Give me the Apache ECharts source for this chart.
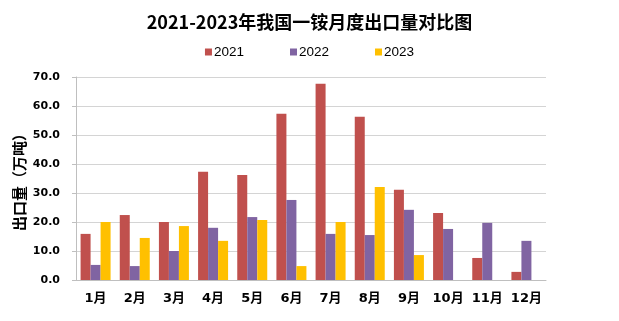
<!DOCTYPE html>
<html><head><meta charset="utf-8">
<script src="https://cdn.jsdelivr.net/npm/echarts@6/dist/echarts.min.js"></script>
<style>html,body{margin:0;padding:0;background:#fff}#c{width:619px;height:321px}</style>
</head><body><div id="c"></div>
<script>
var categories = ['1月','2月','3月','4月','5月','6月','7月','8月','9月','10月','11月','12月'];
var seriesNames = ['2021','2022','2023'];
var data2021 = [15.9, 22.4, 20.0, 37.3, 36.2, 57.3, 67.7, 56.3, 31.1, 23.1, 7.6, 2.8];
var data2022 = [5.2, 4.8, 10.0, 18.0, 21.7, 27.6, 15.9, 15.5, 24.2, 17.6, 19.7, 13.5];
var data2023 = [20.0, 14.5, 18.6, 13.5, 20.7, 4.8, 20.0, 32.1, 8.6, null, null, null];
var colors = ['#C0504D', '#8064A2', '#FFC000'];

var chart = echarts.init(document.getElementById('c'));
var lblFont = '"DejaVu Sans", "Noto Sans CJK SC", sans-serif';
function bar(name, data, color) {
  return { name: name, type: 'bar', data: data, barWidth: 10, barGap: '0%',
           itemStyle: { color: color }, animation: false };
}
chart.setOption({
  animation: false,
  title: { text: '2021-2023年我国一铵月度出口量对比图', left: 'center', top: 8,
           textStyle: { fontFamily: '"Noto Sans CJK SC", sans-serif', fontWeight: 'bold', fontSize: 18, color: '#000' } },
  legend: { top: 40, left: 'center', itemWidth: 7, itemHeight: 7, itemGap: 46, icon: 'rect',
            textStyle: { fontFamily: '"Liberation Sans", sans-serif', fontSize: 13.5, color: '#000', padding: [0, 0, 0, -3] },
            data: seriesNames },
  grid: { left: 76, right: 73, top: 77, bottom: 41 },
  xAxis: { type: 'category', data: categories,
           axisLine: { lineStyle: { color: '#bfbfbf' } }, axisTick: { show: false },
           axisLabel: { interval: 0, fontFamily: lblFont, fontWeight: 'bold', fontSize: 13, color: '#000', margin: 12 } },
  yAxis: { type: 'value', min: 0, max: 70, interval: 10,
           name: '出口量（万吨）', nameLocation: 'middle', nameGap: 49, nameMoveOverlap: false,
           nameTextStyle: { fontFamily: '"Noto Sans CJK SC", sans-serif', fontWeight: 'bold', fontSize: 15, color: '#000' },
           axisLine: { show: true, lineStyle: { color: '#bfbfbf' } },
           axisTick: { show: true, length: 4, lineStyle: { color: '#bfbfbf' } },
           splitLine: { lineStyle: { color: '#d4d4d4' } },
           axisLabel: { fontFamily: lblFont, fontWeight: 'bold', fontSize: 11, color: '#000', margin: 16,
                        formatter: function (v) { return v.toFixed(1); } } },
  series: [ bar(seriesNames[0], data2021, colors[0]), bar(seriesNames[1], data2022, colors[1]), bar(seriesNames[2], data2023, colors[2]) ]
});
</script></body></html>
